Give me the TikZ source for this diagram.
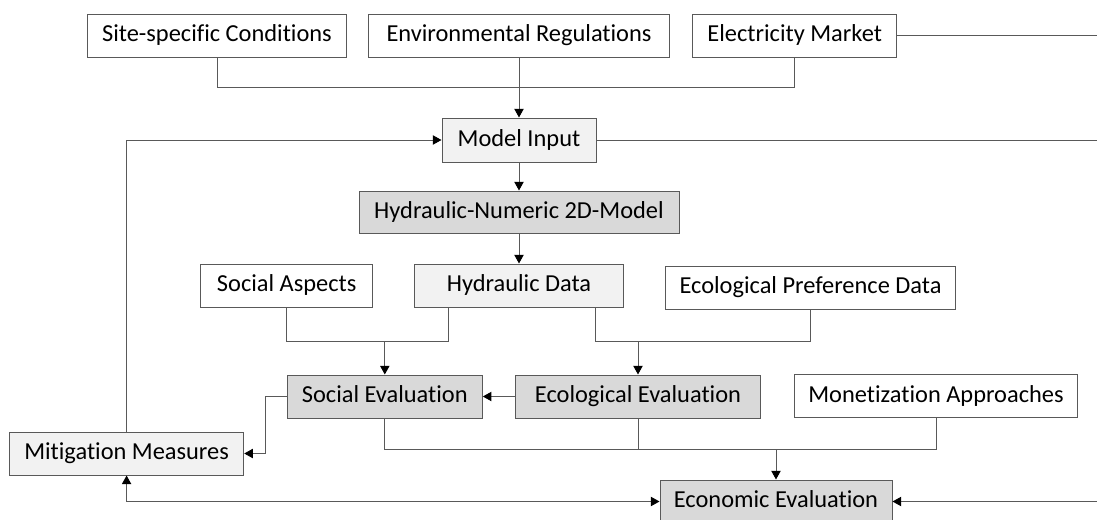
\documentclass[tikz,border=0pt]{standalone}
\usepackage{fontspec}
\setmainfont{Carlito}[Ligatures=NoCommon]
\usetikzlibrary{arrows.meta}

\definecolor{edge}{RGB}{89,89,89}
\definecolor{lightfill}{RGB}{242,242,242}
\definecolor{darkfill}{RGB}{217,217,217}

\begin{document}
\begin{tikzpicture}[x=0.75pt,y=-0.75pt,
	box/.style={rectangle,draw=edge,line width=0.75pt,fill=white,align=center,minimum height=32.25pt,inner sep=0pt,text height=0.95em,text depth=0pt,font=\fontsize{18.3}{22}\selectfont},
	lightbox/.style={box,fill=lightfill},
	darkbox/.style={box,fill=darkfill},
	wire/.style={draw=edge,line width=0.75pt},
	tip/.tip={Triangle[length=6.5pt,width=7pt,color=black]},
	links/.style={wire,-tip}]

	\clip (0,0) rectangle (1097,519);

	% inputs
	\node[box, minimum width=194.25pt] (site) at (217,35.5) {Site-specific Conditions};
	\node[box, minimum width=226pt] (envreg) at (519,35.5) {Environmental Regulations};
	\node[box, minimum width=152.6pt] (elec) at (794.7,35.5) {Electricity Market};

	% model chain
	\node[lightbox, minimum width=115.5pt, minimum height=33pt] (modelin) at (519,140) {Model Input};
	\node[darkbox, minimum width=240pt, minimum height=31.5pt] (hydnum) at (519,212) {Hydraulic-Numeric 2D-Model};

	\node[box, minimum width=128.6pt] (socasp) at (286.7,285.5) {Social Aspects};
	\node[lightbox, minimum width=156.5pt] (hyddata) at (519,285.5) {Hydraulic Data};
	\node[box, minimum width=218pt] (ecopref) at (810.5,287.5) {Ecological Preference Data};

	% evaluations
	\node[darkbox, minimum width=146.25pt] (soceval) at (384.8,396.5) {Social Evaluation};
	\node[darkbox, minimum width=183.6pt] (ecoeval) at (638,396.5) {Ecological Evaluation};
	\node[box, minimum width=212.8pt] (monet) at (936,396) {Monetization Approaches};

	\node[lightbox, minimum width=175.7pt] (mitig) at (126.6,453.5) {Mitigation Measures};
	\node[darkbox, minimum width=174pt] (econ) at (776,501.5) {Economic Evaluation};

	% taps and free ends
	\coordinate (hdleft) at (448.6,0);
	\coordinate (hdright) at (595.7,0);
	\coordinate (rimtop) at (1097,35.5);
	\coordinate (rimmodel) at (1097,140);
	\coordinate (rimecon) at (1097,501.5);

	\draw[wire] (site.south) -- ++(0,30) -| (elec.south);
	\draw[links] (envreg.south) -- (modelin.north);
	\draw[wire] (elec.east) -- (rimtop);
	\draw[wire] (modelin.east) -- (rimmodel);
	\draw[links] (modelin.south) -- (hydnum.north);
	\draw[links] (hydnum.south) -- (hyddata.north);

	\draw[wire] (socasp.south) -- ++(0,34) -| (hyddata.south -| hdleft);
	\draw[links] (soceval.north |- 0,341) -- (soceval.north);
	\draw[wire] (hyddata.south -| hdright) -- ++(0,34) -| (ecopref.south);
	\draw[links] (ecoeval.north |- 0,341) -- (ecoeval.north);

	\draw[links] (ecoeval.west) -- (soceval.east);
	\draw[links] (soceval.west) -- ++(-21.8,0) |- (mitig.east);

	\draw[wire] (soceval.south) -- ++(0,31) -| (monet.south);
	\draw[wire] (ecoeval.south) -- (ecoeval.south |- 0,449);
	\draw[links] (econ.north |- 0,449) -- (econ.north);

	\draw[links] (mitig.north) |- (modelin.west);
	\draw[links, tip-tip] (mitig.south) |- (econ.west);
	\draw[links] (rimecon) -- (econ.east);

\end{tikzpicture}
\end{document}
